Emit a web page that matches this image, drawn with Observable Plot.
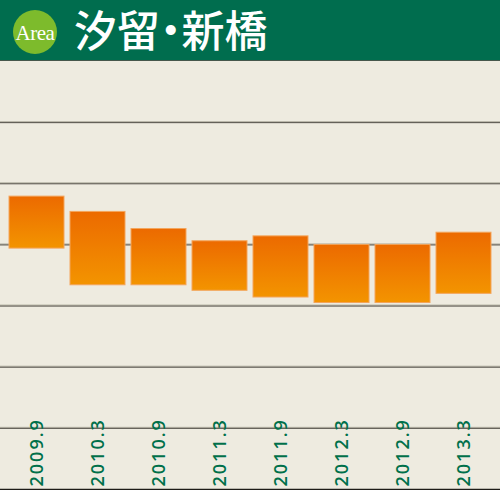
<!DOCTYPE html>
<html>
<head>
<meta charset="utf-8">
<script src="https://cdn.jsdelivr.net/npm/d3@7"></script>
<script src="https://cdn.jsdelivr.net/npm/@observablehq/plot@0.6"></script>
<style>
  html, body { margin: 0; padding: 0; background: #eeebe0; }
  #header { position: relative; width: 500px; height: 60px; background: #006d4e; border-bottom: 1px solid #46574c; }
  #badge { position: absolute; left: 13px; top: 10px; width: 44px; height: 44px; border-radius: 50%; background: #7dbb2c;
    color: #fff; font-family: "Liberation Serif", "DejaVu Serif", serif; font-size: 21px; line-height: 46px; text-align: center; letter-spacing: -0.5px; }
  #title { position: absolute; left: 74px; top: 0px; width: 300px; height: 60px; line-height: 56px; color: #fff; white-space: nowrap;
    font-family: "Noto Sans CJK JP", sans-serif; font-weight: 500; font-size: 43px; font-feature-settings: "palt"; }
  #chart svg { display: block; }
  #chart svg text { letter-spacing: 2px; }
</style>
</head>
<body>
<div id="header"><div id="badge">Area</div><div id="title">汐留・新橋</div></div>
<div id="chart"></div>
<script>
// Periods (x categories)
const periods = ["2009.9", "2010.3", "2010.9", "2011.3", "2011.9", "2012.3", "2012.9", "2013.3"];
// Range of each bar (upper and lower value, in grid units)
const highs = [4.79, 4.54, 4.26, 4.06, 4.14, 4.00, 4.00, 4.20];
const lows  = [3.94, 3.34, 3.34, 3.25, 3.14, 3.05, 3.05, 3.20];
// Gridline values
const gridValues = [1, 2, 3, 4, 5, 6];

const data = periods.map((p, i) => ({period: p, high: highs[i], low: lows[i]}));

const plot = Plot.plot({
  width: 500,
  height: 429,
  marginTop: 0,
  marginBottom: 1,
  marginLeft: 0,
  marginRight: 0,
  style: {background: "#eeebe0", overflow: "visible"},
  x: {domain: periods, range: [6, 494], paddingInner: 0.1, paddingOuter: 0.05, axis: null},
  y: {domain: [0, 7], axis: null},
  marks: [
    Plot.ruleY(gridValues, {stroke: "#b3b0a2", dy: -1}),
    Plot.ruleY(gridValues, {stroke: "#4f4c44"}),
    Plot.ruleY([0], {stroke: "#1e1c18", strokeWidth: 1.5}),
    Plot.barY(data, {x: "period", y1: "low", y2: "high", fill: "url(#barGrad)", stroke: "#f3a55c", strokeWidth: 1}),
    Plot.text(periods, {x: d => d, y: 0, dy: -3, rotate: -90, textAnchor: "start", fill: "#00704a",
      fontSize: 18, fontWeight: 600, fontFamily: "Open Sans"})
  ]
});

const svg = d3.select(plot);
const defs = svg.insert("defs", ":first-child");
const g = defs.append("linearGradient").attr("id", "barGrad").attr("x1", 0).attr("y1", 0).attr("x2", 0).attr("y2", 1);
g.append("stop").attr("offset", "0%").attr("stop-color", "#ec6a00");
g.append("stop").attr("offset", "100%").attr("stop-color", "#f39400");

document.getElementById("chart").appendChild(plot);
</script>
</body>
</html>
